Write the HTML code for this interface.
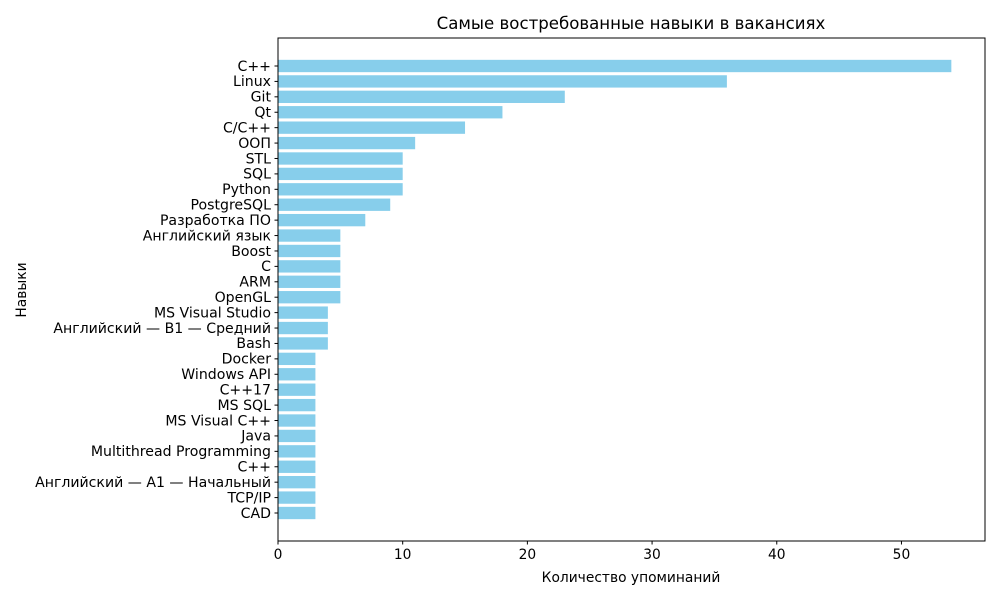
<!DOCTYPE html>
<html><head><meta charset="utf-8"><style>
body{margin:0;background:#fff}
svg text{font-family:"DejaVu Sans","Liberation Sans",sans-serif;fill:#000}
</style></head><body>
<svg id="chart" width="1000" height="600" xmlns="http://www.w3.org/2000/svg">
<rect width="1000" height="600" fill="#fff"/>
<text x="631" y="29" font-size="16.6" text-anchor="middle">Самые востребованные навыки в вакансиях</text>
<g id="bars"></g><g id="yticks"></g><g id="xticks"></g>
<rect x="278" y="38" width="707" height="503" fill="none" stroke="#000" stroke-width="1"/>
<text x="631" y="582" font-size="13.8" text-anchor="middle">Количество упоминаний</text>
<text x="26" y="290" font-size="13.8" text-anchor="middle" transform="rotate(-90 26 290)">Навыки</text>
</svg>
<script>
const categories=["C++","Linux","Git","Qt","C/C++","ООП","STL","SQL","Python","PostgreSQL","Разработка ПО","Английский язык","Boost","C","ARM","OpenGL","MS Visual Studio","Английский — B1 — Средний","Bash","Docker","Windows API","C++17","MS SQL","MS Visual C++","Java","Multithread Programming","C++","Английский — A1 — Начальный","TCP/IP","CAD"];
const values=[54,36,23,18,15,11,10,10,10,9,7,5,5,5,5,5,4,4,4,3,3,3,3,3,3,3,3,3,3,3];
const xTicks=[0,10,20,30,40,50];
const NS="http://www.w3.org/2000/svg";
const X0=278,X1=985,BOT=541;
const xmax=Math.max(...values)*1.05;
const xs=v=>X0+v/xmax*(X1-X0);
const n=categories.length;
const rowH=(513-66)/29;
const ys=i=>66+i*rowH;
const bh=0.8*rowH;
const gb=document.getElementById('bars'),gy=document.getElementById('yticks'),gx=document.getElementById('xticks');
values.forEach((v,i)=>{
 const r=document.createElementNS(NS,'rect');
 r.setAttribute('x',xs(0));r.setAttribute('y',ys(i)-bh/2);r.setAttribute('width',xs(v)-xs(0));r.setAttribute('height',bh);r.setAttribute('fill','#87CEEB');
 
 
 gb.appendChild(r);
 const l=document.createElementNS(NS,'line');
 l.setAttribute('x1',X0-3.5);l.setAttribute('x2',X0);l.setAttribute('y1',ys(i));l.setAttribute('y2',ys(i));l.setAttribute('stroke','#000');
 
 
 gy.appendChild(l);
 const t=document.createElementNS(NS,'text');
 t.setAttribute('x',X0-7);t.setAttribute('y',ys(i)+4.8);t.setAttribute('font-size','14.1');t.setAttribute('text-anchor','end');t.textContent=categories[i];
 
 
 gy.appendChild(t);
});
xTicks.forEach(v=>{
 const l=document.createElementNS(NS,'line');
 l.setAttribute('x1',xs(v));l.setAttribute('x2',xs(v));l.setAttribute('y1',BOT);l.setAttribute('y2',BOT+3.5);l.setAttribute('stroke','#000');
 
 
 gx.appendChild(l);
 const t=document.createElementNS(NS,'text');
 t.setAttribute('x',xs(v));t.setAttribute('y',BOT+18);t.setAttribute('font-size','13.8');t.setAttribute('text-anchor','middle');t.textContent=v;
 
 
 gx.appendChild(t);
});
</script>
</body></html>
